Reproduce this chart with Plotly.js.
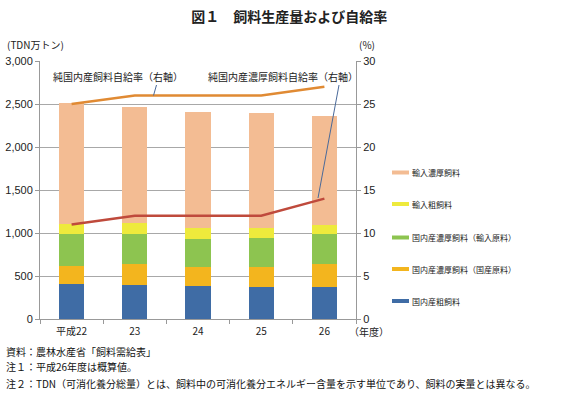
<!DOCTYPE html>
<html><head><meta charset="utf-8">
<script src="https://cdn.plot.ly/plotly-3.0.1.min.js"></script>
<style>body{margin:0;background:#fff}#c{width:576px;height:399px}</style>
</head><body><div id="c"></div>
<script>
const years = ["平成22", "23", "24", "25", "26"];
const domRough   = [410, 395, 384, 372, 372];     // 国内産粗飼料
const domConcDom = [210, 245, 222, 229, 268];     // 国内産濃厚飼料（国産原料）
const domConcImp = [365, 352, 328, 344, 348];     // 国内産濃厚飼料（輸入原料）
const impRough   = [120, 121, 128, 117, 105];     // 輸入粗飼料
const impConc    = [1410, 1352, 1349, 1329, 1271]; // 輸入濃厚飼料
const selfRate   = [25, 26, 26, 26, 27];          // 純国内産飼料自給率
const concRate   = [11, 12, 12, 12, 14];          // 純国内産濃厚飼料自給率

const barNames  = ["国内産粗飼料", "国内産濃厚飼料（国産原料）", "国内産濃厚飼料（輸入原料）", "輸入粗飼料", "輸入濃厚飼料"];
const barSeries = [domRough, domConcDom, domConcImp, impRough, impConc];
const barColors = ["#3F6CA5", "#F3B51E", "#8DC450", "#EEEA3C", "#F3BC93"];
const lineNames  = ["純国内産飼料自給率（右軸）", "純国内産濃厚飼料自給率（右軸）"];
const lineColors = ["#E08A33", "#BF4A3C"];

const jp = '"Noto Sans CJK JP", "Noto Sans", sans-serif';
const num = '"Liberation Sans", Arial, sans-serif';

const traces = barSeries.map((v, i) => ({
  type: 'bar', x: years, y: v, name: barNames[i],
  marker: {color: barColors[i], line: {width: 0}}, width: 0.4, showlegend: false
}));
traces.push({type: 'scatter', mode: 'lines', x: years, y: selfRate, yaxis: 'y2',
  line: {color: lineColors[0], width: 2.5}, showlegend: false, name: lineNames[0]});
traces.push({type: 'scatter', mode: 'lines', x: years, y: concRate, yaxis: 'y2',
  line: {color: lineColors[1], width: 2.5}, showlegend: false, name: lineNames[1]});

// plot area pixel helpers
const L = 40, R = 356, T = 61, B = 319;
const px = p => (p - L) / (R - L);
const py = p => (B - p) / (B - T);

const shapes = [];
const annotations = [];
function txt(x, y, text, size, xa, color) {
  annotations.push({xref: 'paper', yref: 'paper', x: px(x), y: py(y), xanchor: xa, yanchor: 'middle',
    text: text, showarrow: false, font: {family: jp, size: size, color: color || '#222'}});
}
// manual legend (top = last series)
const legY = [301, 269, 237.5, 204, 172.5];
barNames.forEach((n, i) => {
  shapes.push({type: 'line', xref: 'paper', yref: 'paper', x0: px(392), x1: px(409), y0: py(legY[i]), y1: py(legY[i]),
    line: {color: barColors[i], width: 4}});
  txt(410, legY[i], n, 8, 'left', '#222');
});
// leader lines
shapes.push({type: 'line', xref: 'paper', yref: 'paper', x0: px(156.5), y0: py(85), x1: px(153.5), y1: py(95.5), line: {color: '#4A6A9A', width: 1}});
shapes.push({type: 'line', xref: 'paper', yref: 'paper', x0: px(339), y0: py(85), x1: px(318), y1: py(198), line: {color: '#4A6A9A', width: 1}});

txt(118, 76, lineNames[0], 10, 'center');
txt(283, 76, lineNames[1], 10, 'center');
txt(5, 45, '(TDN万トン)', 10, 'left');
txt(367, 44, '(%)', 10, 'center');
txt(347, 331, '（年度）', 10, 'left');
txt(4, 351, '資料：農林水産省「飼料需給表」', 10, 'left', '#111');
txt(4, 367, '注１：平成26年度は概算値。', 10, 'left', '#111');
txt(4, 383, '注２：TDN（可消化養分総量）とは、飼料中の可消化養分エネルギー含量を示す単位であり、飼料の実量とは異なる。', 10, 'left', '#111');

const layout = {
  width: 576, height: 399,
  margin: {l: L, r: 576 - R, t: T, b: 399 - B, pad: 0},
  paper_bgcolor: '#fff', plot_bgcolor: '#fff',
  barmode: 'stack', showlegend: false,
  title: {text: '<b>図１　飼料生産量および自給率</b>', x: 0.502, xanchor: 'center', y: 0.957, yanchor: 'middle',
    font: {family: jp, size: 14, color: '#222'}},
  xaxis: {type: 'category', tickson: 'boundaries', ticks: 'outside', ticklen: 4, tickcolor: '#999',
    showline: true, linecolor: '#999', linewidth: 1, showgrid: false, ticklabelstandoff: 3,
    tickfont: {family: jp, size: 10, color: '#222'}, fixedrange: true},
  yaxis: {range: [0, 3000], dtick: 500, tickformat: ',d', ticks: 'outside', ticklen: 4, tickcolor: '#999',
    showline: true, linecolor: '#999', gridcolor: '#A8A8A8', gridwidth: 1, zeroline: false,
    tickfont: {family: num, size: 11, color: '#222'}},
  yaxis2: {range: [0, 30], dtick: 5, overlaying: 'y', side: 'right', ticks: 'outside', ticklen: 4, tickcolor: '#999',
    showline: true, linecolor: '#999', showgrid: false, zeroline: false,
    tickfont: {family: num, size: 11, color: '#222'}},
  shapes: shapes, annotations: annotations
};
Plotly.newPlot('c', traces, layout, {staticPlot: true, displayModeBar: false});
</script></body></html>
